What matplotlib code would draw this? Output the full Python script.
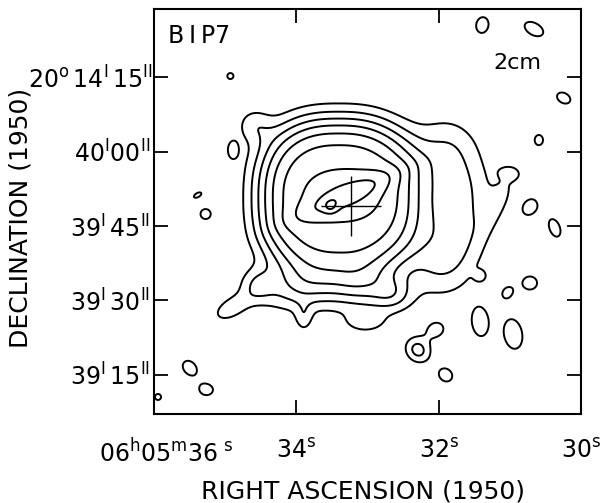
import numpy as np
import matplotlib
matplotlib.use("Agg")
import matplotlib.pyplot as plt
from matplotlib.transforms import ScaledTranslation

# Model of the 2 cm map of BIP7: RA in seconds of time (06h05m..),
# Dec in arcsec above 20d39m00s.  One row per emission component.
# core: plateau, l7 blob, l8 ridge, peak
core_ra = [33.408, 33.338, 33.268, 33.519]
core_dec = [50.64, 51.24, 51.44, 48.82]
core_amp = [6.6, 1.0, 1.25, 1.0]
core_major = [14.4, 6.3, 8.0, 1.0]
core_minor = [14.6, 4.0, 1.6, 1.0]
core_pa = [0, 0, 24, 0]

# extended emission: east lobe chain, finger, south band, NW ear
ext_ra = [31.917, 31.763, 31.805, 31.972, 31.150, 31.010,
          34.913, 34.551, 33.965, 33.059, 32.640, 33.896, 33.031, 34.592]
ext_dec = [60.30, 52.25, 44.19, 37.15, 50.23, 55.67,
           28.49, 33.12, 32.11, 32.11, 31.11, 26.48, 25.67, 65.33]
ext_amp = [1.8, 1.8, 1.8, 1.8, 1.0, 1.2,
           1.6, 1.6, 2.2, 2.2, 1.6, 1.3, 1.4, 1.5]
ext_major = [4.8, 4.8, 4.8, 4.8, 5.0, 1.6,
             3.0, 2.4, 5.5, 5.0, 2.8, 2.0, 3.0, 2.4]
ext_minor = [4.8, 4.8, 4.8, 4.8, 1.6, 1.0,
             1.6, 2.4, 3.2, 3.2, 2.4, 1.2, 1.6, 2.4]
ext_pa = [0, 0, 0, 0, 63, -10,
          30, 0, 0, 0, 0, 90, 0, 0]

# isolated noise peaks
blob_ra = [34.927, 34.899, 35.387, 35.275, 31.387, 30.662, 30.244,
           30.592, 30.718, 30.370, 31.415, 31.038, 30.718, 31.415,
           30.955, 32.042, 32.293, 31.903, 35.498, 35.261, 35.944]
blob_dec = [75.20, 60.30, 51.24, 47.41, 85.47, 84.66, 70.77,
            62.31, 48.82, 44.60, 34.93, 31.51, 33.52, 25.67,
            23.25, 24.06, 20.03, 15.00, 16.41, 11.98, 10.57]
blob_amp = [1.3, 1.3, 1.3, 1.3, 1.3, 1.3, 1.3,
            1.3, 1.3, 1.3, 1.3, 1.3, 1.3, 1.9,
            1.9, 1.3, 2.4, 1.3, 1.3, 1.3, 1.3]
blob_major = [0.83, 1.93, 1.1, 1.38, 2.2, 2.76, 1.93,
              1.38, 2.2, 2.5, 0.83, 1.38, 1.93, 2.5,
              2.65, 1.93, 1.96, 1.93, 2.2, 1.66, 0.83]
blob_minor = [0.83, 1.1, 0.55, 1.38, 1.66, 1.66, 1.38,
              1.1, 1.66, 1.4, 0.83, 1.1, 1.8, 1.42,
              1.58, 1.66, 1.7, 1.66, 1.66, 1.38, 0.83]
blob_pa = [0, 90, 30, 0, 80, -30, -30,
           90, 60, 110, 0, 60, 0, 95,
           100, 20, -50, -45, -50, 0, 0]

levels = [1, 2, 3, 4, 5, 6, 7, 8, 9]

# position marker (cross)
cross_ra = [33.227]
cross_dec = [49.02]
cross_dra = [0.42]
cross_ddec = [6.0]

x_ticks = [36, 34, 32, 30]
x_labels = [r'$\mathregular{06^{h}05^{m}36^{\ s}}$', r'$\mathregular{34^{s}}$',
            r'$\mathregular{32^{s}}$', r'$\mathregular{30^{s}}$']
y_ticks = [75, 60, 45, 30, 15]
y_labels = [r'$\mathregular{20^{o}\,14^{I}\,15^{II}}$', r'$\mathregular{40^{I}00^{II}}$',
            r'$\mathregular{39^{I}\,45^{II}}$', r'$\mathregular{39^{I}\,30^{II}}$',
            r'$\mathregular{39^{I}\,15^{II}}$']

ra = np.linspace(29.8, 36.2, 700)
dec = np.linspace(5, 92, 700)
RA, DEC = np.meshgrid(ra, dec)


def component(r0, d0, amp, a, b, pa, s=2.0, p=2.0):
    dx = -(RA - r0) * 14.04   # arcsec, to the screen right
    dy = DEC - d0
    t = np.radians(pa)
    u = dx * np.cos(t) + dy * np.sin(t)
    v = -dx * np.sin(t) + dy * np.cos(t)
    r = (np.abs(u / a) ** s + np.abs(v / b) ** s) ** (1 / s)
    return amp * np.exp(-0.5 * r ** p)


field = np.zeros_like(RA)
for i in range(len(core_ra)):
    shape = (2.5, 5.0) if i == 0 else (2.0, 2.0)
    field += component(core_ra[i], core_dec[i], core_amp[i], core_major[i],
                       core_minor[i], core_pa[i], *shape)
for row in zip(ext_ra, ext_dec, ext_amp, ext_major, ext_minor, ext_pa):
    field += component(*row)
for row in zip(blob_ra, blob_dec, blob_amp, blob_major, blob_minor, blob_pa):
    field += component(*row)

fig = plt.figure(figsize=(6.04, 5.03), dpi=100)
ax = fig.add_axes([0.255, 0.177, 0.707, 0.805])
ax.contour(RA, DEC, field, levels=levels, colors='black', linewidths=1.4)
ax.errorbar(cross_ra, cross_dec, xerr=cross_dra, yerr=cross_ddec, fmt='none',
            ecolor='black', elinewidth=1.0, capsize=0)

ax.set_xlim(36, 30)
ax.set_ylim(7.15, 88.69)
ax.set_xticks(x_ticks, x_labels)
ax.set_yticks(y_ticks, y_labels)
ax.tick_params(direction='in', length=10, width=1.3, top=True, right=True,
               labeltop=False, labelright=False, labelsize=17)
ax.tick_params(axis='x', pad=18)
ax.tick_params(axis='y', pad=3)
for s in ax.spines.values():
    s.set_linewidth(1.5)

# first RA label sits a little right of its tick in the original,
# the top Dec label reaches closer to the frame
lbl = ax.get_xticklabels()[0]
lbl.set_transform(lbl.get_transform() + ScaledTranslation(0.12, 0, fig.dpi_scale_trans))
lbl = ax.get_yticklabels()[0]
lbl.set_transform(lbl.get_transform() + ScaledTranslation(0.03, 0, fig.dpi_scale_trans))

ax.text(0.033, 0.933, 'B\u2009I\u2009P7', transform=ax.transAxes, fontsize=17,
        va='center')
ax.text(0.794, 0.867, '2cm', transform=ax.transAxes, fontsize=16, va='center')

fig.text(363 / 604, 1 - 498 / 503, 'RIGHT ASCENSION (1950)', fontsize=18,
         ha='center', va='baseline')
fig.text(21 / 604, 1 - 218 / 503, 'DECLINATION (1950)', fontsize=18,
         rotation=90, ha='center', va='center')

fig.savefig('out.png', dpi=100)
